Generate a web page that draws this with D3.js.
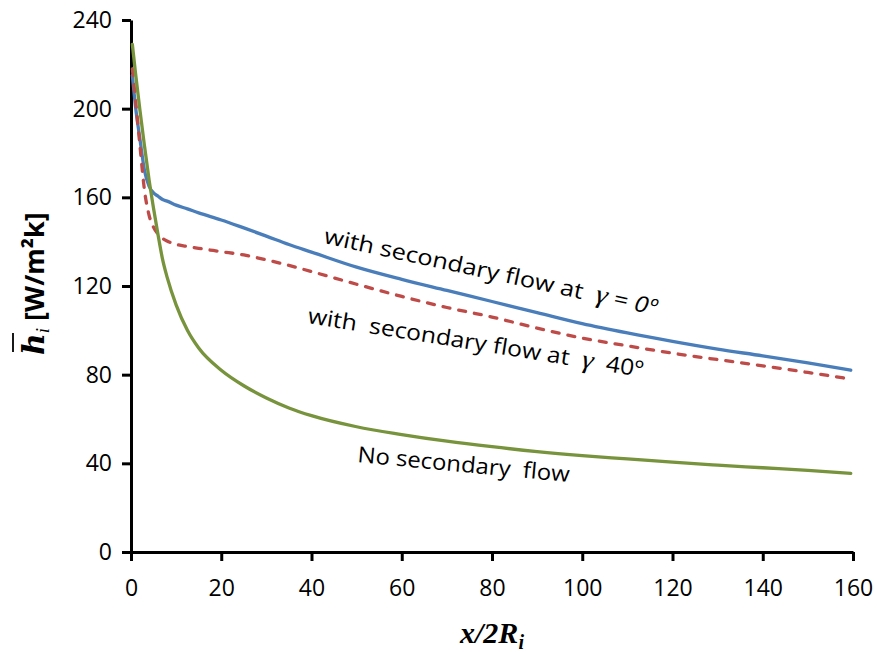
<!DOCTYPE html>
<html>
<head>
<meta charset="utf-8">
<script src="https://cdn.jsdelivr.net/npm/d3@7"></script>
<style>
  html, body { margin: 0; padding: 0; background: #fff; }
  svg { display: block; }
</style>
</head>
<body>
<svg id="chart" width="877" height="652"></svg>
<script>
// ---- data ----
const xPos = [0.3, 1, 2, 3, 4, 5, 6, 7, 8, 10, 12.5, 15, 20, 25, 30, 35, 40, 50, 60, 70, 80, 90, 100, 110, 120, 130, 140, 150, 159.5];
const gamma0 = [215, 201, 186, 172, 165, 162, 160.5, 159, 158.3, 156.5, 154.8, 153, 149.8, 146.2, 142.5, 138.7, 135.3, 128.5, 123, 118, 113, 108, 103, 98.8, 95, 91.5, 88.5, 85.3, 82];
const gamma40 = [218, 204, 183, 163, 152, 146.5, 143.5, 141.5, 140.3, 138.8, 137.8, 137, 135.5, 134, 131.8, 129.3, 126.5, 120.8, 115.3, 110.3, 106, 101, 96.5, 93, 89.7, 86.8, 84, 81, 78];
const noFlow = [229, 216, 199, 183, 168, 155, 143, 132, 124, 111.5, 100, 92, 82, 75, 69.5, 65, 61.5, 56.5, 53, 50, 47.5, 45.3, 43.5, 42, 40.5, 39.2, 38, 36.8, 35.5];
const xTicks = [0, 20, 40, 60, 80, 100, 120, 140, 160];
const yTicks = [0, 40, 80, 120, 160, 200, 240];
const seriesColors = ["#4a7ebb", "#be4b48", "#77933c"];

// ---- layout ----
const svg = d3.select("#chart");
const mLeft = 131, mTop = 20, mRight = 853, mBottom = 552;
const x = d3.scaleLinear().domain([0, 160]).range([mLeft, mRight]);
const y = d3.scaleLinear().domain([0, 240]).range([mBottom, mTop]);

const tickFont = "'Open Sans', 'DejaVu Sans', sans-serif";

// axes
const yAxis = svg.append("g").attr("transform", `translate(${mLeft},0)`)
  .call(d3.axisLeft(y).tickValues(yTicks).tickSize(9).tickPadding(10).tickSizeOuter(0));
const xAxis = svg.append("g").attr("transform", `translate(0,${mBottom})`)
  .call(d3.axisBottom(x).tickValues(xTicks).tickSize(9).tickPadding(19).tickSizeOuter(0));

[yAxis, xAxis].forEach(g => {
  g.select(".domain").attr("stroke", "#000").attr("stroke-width", 3);
  g.selectAll(".tick line").attr("stroke", "#000").attr("stroke-width", 3);
  g.selectAll(".tick text").attr("fill", "#000").style("font-family", tickFont).style("font-size", "23px");
});
xAxis.selectAll(".tick text").attr("dy", "0.68em");

// lines
const line = vals => d3.line()
  .x((d, i) => x(xPos[i]))
  .y(d => y(d))
  .curve(d3.curveMonotoneX)(vals);

svg.append("path").attr("d", line(gamma0)).attr("fill", "none")
  .attr("stroke", seriesColors[0]).attr("stroke-width", 3.3).attr("stroke-linecap", "round");
svg.append("path").attr("d", line(gamma40)).attr("fill", "none")
  .attr("stroke", seriesColors[1]).attr("stroke-width", 3.3)
  .attr("stroke-dasharray", "7,9").attr("stroke-linecap", "round");
svg.append("path").attr("d", line(noFlow)).attr("fill", "none")
  .attr("stroke", seriesColors[2]).attr("stroke-width", 3.3).attr("stroke-linecap", "round");

// annotations
const annFont = "'Open Sans', 'DejaVu Sans', sans-serif";
const mathFont = "'Liberation Serif', 'DejaVu Serif', serif";

function annotate(x0, y0, x1, y1, parts) {
  const ang = Math.atan2(y1 - y0, x1 - x0) * 180 / Math.PI;
  const len = Math.hypot(x1 - x0, y1 - y0);
  const t = svg.append("text")
    .attr("transform", `translate(${x0},${y0}) rotate(${ang})`)
    .style("font-family", annFont).style("font-size", "22px").attr("fill", "#000")
    .style("white-space", "pre")
    .attr("textLength", len).attr("lengthAdjust", "spacingAndGlyphs");
  parts.forEach(p => {
    const s = t.append("tspan").text(p.t);
    if (p.math) s.style("font-family", mathFont).style("font-style", "italic").style("font-size", "26px");
    if (p.it) s.style("font-style", "italic");
  });
}

annotate(323, 243, 655, 315, [
  { t: "with secondary flow at  " }, { t: "γ", math: true }, { t: " = " }, { t: "0º", it: true }
]);
annotate(307, 323, 642, 377, [
  { t: "with  secondary flow at  " }, { t: "γ", math: true }, { t: "  40º" }
]);
annotate(357, 462, 569, 482, [
  { t: "No secondary  flow" }
]);

// x axis title
const xt = svg.append("text").attr("x", (mLeft + mRight) / 2).attr("y", 643)
  .attr("text-anchor", "middle").attr("fill", "#000")
  .style("font-family", mathFont).style("font-weight", "bold").style("font-style", "italic").style("font-size", "30px");
xt.append("tspan").text("x/2R");
xt.append("tspan").text("i").attr("dy", 6).style("font-size", "20px");

// y axis title
const yg = svg.append("g").attr("transform", "translate(44,355) rotate(-90)");
const yt = yg.append("text").attr("x", 0).attr("y", 0).attr("fill", "#000");
yt.append("tspan").text("h").style("font-family", "'DejaVu Serif', serif").style("font-weight", "bold")
  .style("font-style", "italic").style("font-size", "30px");
yt.append("tspan").text("i").attr("dy", 5).style("font-family", mathFont)
  .style("font-style", "italic").style("font-size", "19px");
yt.append("tspan").text(" [W/m²k]").attr("dy", -5).style("font-family", annFont)
  .style("font-weight", "bold").style("font-size", "27px");
// overbar above h
yg.append("line").attr("x1", 3).attr("x2", 22).attr("y1", -31).attr("y2", -31)
  .attr("stroke", "#000").attr("stroke-width", 1.8);
</script>
</body>
</html>
